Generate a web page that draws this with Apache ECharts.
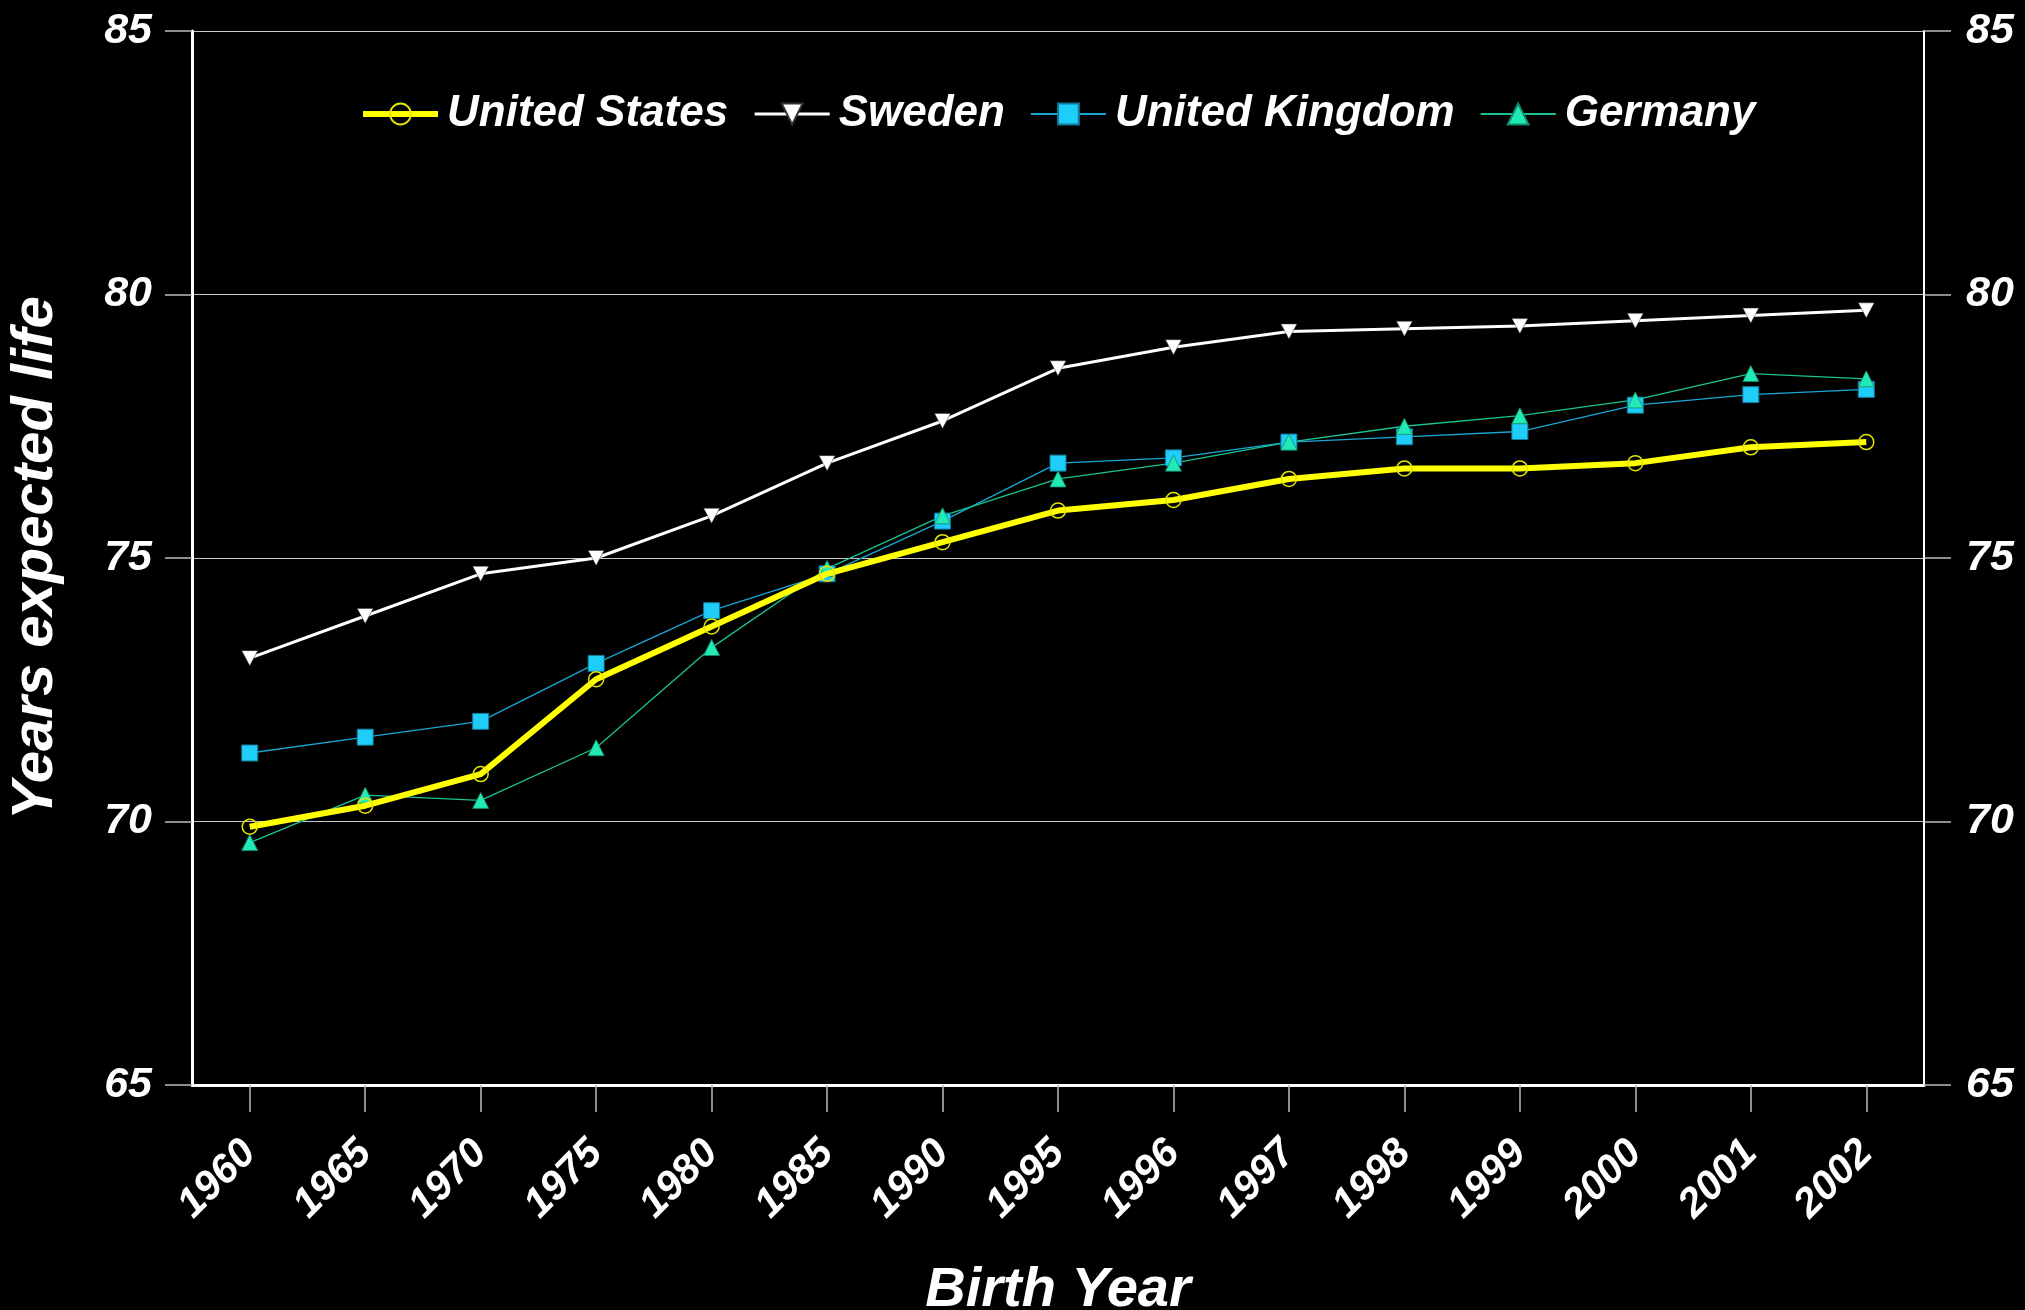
<!DOCTYPE html>
<html>
<head>
<meta charset="utf-8">
<script src="https://cdn.jsdelivr.net/npm/echarts@6/dist/echarts.min.js"></script>
<style>
  html, body { margin: 0; padding: 0; background: #000; }
  #chart { width: 2025px; height: 1310px; }
</style>
</head>
<body>
<div id="chart"></div>
<script>
// Life expectancy at birth, by birth year
const years = ['1960','1965','1970','1975','1980','1985','1990','1995','1996','1997','1998','1999','2000','2001','2002'];
const unitedStates  = [69.9, 70.3, 70.9, 72.7, 73.7, 74.7, 75.3, 75.9, 76.1, 76.5, 76.7, 76.7, 76.8, 77.1, 77.2];
const sweden        = [73.1, 73.9, 74.7, 75.0, 75.8, 76.8, 77.6, 78.6, 79.0, 79.3, 79.35, 79.4, 79.5, 79.6, 79.7];
const unitedKingdom = [71.3, 71.6, 71.9, 73.0, 74.0, 74.7, 75.7, 76.8, 76.9, 77.2, 77.3, 77.4, 77.9, 78.1, 78.2];
const germany       = [69.6, 70.5, 70.4, 71.4, 73.3, 74.8, 75.8, 76.5, 76.8, 77.2, 77.5, 77.7, 78.0, 78.5, 78.4];
const yTicks = { min: 65, max: 85, step: 5 };

const FONT = '"Liberation Sans", Arial, sans-serif';
const chart = echarts.init(document.getElementById('chart'), null, { renderer: 'canvas' });

const axisText = { color: '#fff', fontFamily: FONT, fontWeight: 'bold', fontStyle: 'italic', fontSize: 43 };
const downTriangle = 'path://M0,0 L10,0 L5,9 Z';

const yAxisBase = {
  type: 'value',
  min: yTicks.min, max: yTicks.max, interval: yTicks.step,
  axisTick: { show: true, inside: false, length: 27, lineStyle: { color: '#bbb', width: 1.5 } }
};

chart.setOption({
  backgroundColor: '#000',
  animation: false,
  grid: { left: 192, right: 101, top: 31, bottom: 225, containLabel: false, outerBoundsMode: 'none' },
  legend: {
    left: 355, top: 87,
    itemWidth: 75, itemHeight: 26, itemGap: 25,
    textStyle: { color: '#fff', fontFamily: FONT, fontWeight: 'bold', fontStyle: 'italic', fontSize: 44, padding: [0, 0, 0, 4] },
    data: [
      { name: 'United States', lineStyle: { width: 6 } },
      { name: 'Sweden', lineStyle: { width: 3 } },
      { name: 'United Kingdom' },
      { name: 'Germany' }
    ]
  },
  xAxis: {
    type: 'category',
    data: years,
    boundaryGap: true,
    name: 'Birth Year',
    nameLocation: 'middle',
    nameGap: 178,
    nameTextStyle: { color: '#fff', fontFamily: FONT, fontWeight: 'bold', fontStyle: 'italic', fontSize: 56 },
    axisLine: { show: true, lineStyle: { color: '#fff', width: 3 } },
    axisTick: { show: true, alignWithLabel: true, length: 27, lineStyle: { color: '#bbb', width: 1.5 } },
    axisLabel: Object.assign({}, axisText, { fontSize: 41, rotate: 45, margin: 62, interval: 0 }),
    splitLine: { show: false }
  },
  yAxis: [
    Object.assign({}, yAxisBase, {
      position: 'left',
      name: 'Years expected life',
      nameLocation: 'middle',
      nameGap: 127,
      nameRotate: 90,
      nameTextStyle: { color: '#fff', fontFamily: FONT, fontWeight: 'bold', fontStyle: 'italic', fontSize: 58 },
      axisLine: { show: true, lineStyle: { color: '#fff', width: 3 } },
      axisLabel: Object.assign({}, axisText, { margin: 40 }),
      splitLine: { show: true, lineStyle: { color: '#c8c8c8', width: 1.2 } }
    }),
    Object.assign({}, yAxisBase, {
      position: 'right',
      axisLine: { show: true, lineStyle: { color: '#fff', width: 2 } },
      axisLabel: Object.assign({}, axisText, { margin: 42 }),
      splitLine: { show: false }
    })
  ],
  series: [
    {
      name: 'United States', type: 'line', data: unitedStates, z: 5,
      symbol: 'circle', symbolSize: 15, showAllSymbol: true,
      lineStyle: { color: '#ffff00', width: 6 },
      itemStyle: { color: 'rgba(0,0,0,0)', borderColor: '#e6e600', borderWidth: 1.5 }
    },
    {
      name: 'Sweden', type: 'line', data: sweden, z: 4,
      symbol: downTriangle, symbolSize: [16, 15],
      lineStyle: { color: '#ffffff', width: 3 },
      itemStyle: { color: '#ffffff', borderColor: '#333', borderWidth: 0.5 }
    },
    {
      name: 'United Kingdom', type: 'line', data: unitedKingdom, z: 3,
      symbol: 'rect', symbolSize: 16,
      lineStyle: { color: '#1aa6d4', width: 1.3 },
      itemStyle: { color: '#1ecdf8', borderColor: '#127a98', borderWidth: 1 }
    },
    {
      name: 'Germany', type: 'line', data: germany, z: 3,
      symbol: 'triangle', symbolSize: 16,
      lineStyle: { color: '#19c394', width: 1.3 },
      itemStyle: { color: '#22eab4', borderColor: '#138a6a', borderWidth: 0.8 }
    }
  ]
});
</script>
</body>
</html>
